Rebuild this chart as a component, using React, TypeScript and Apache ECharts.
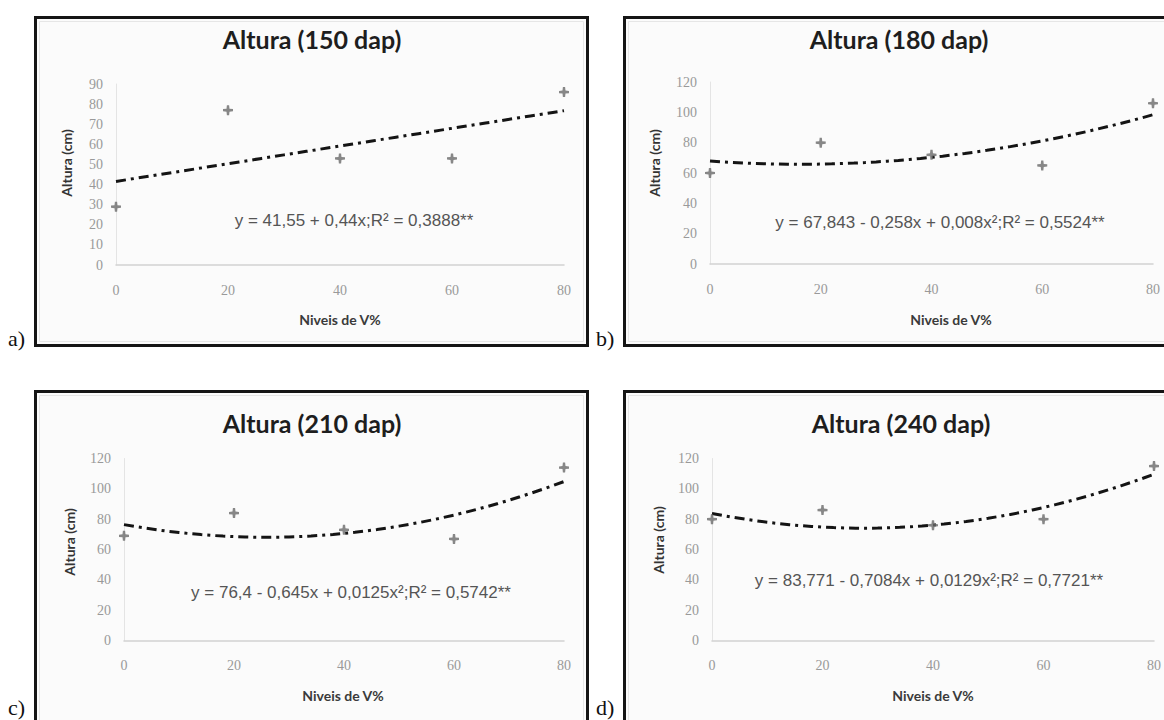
import React, { useEffect, useRef } from "react";
import * as echarts from "echarts";

// Liming levels (V%) on the horizontal axis
const X_LEVELS = [0, 20, 40, 60, 80];

// Plant height (cm) at each evaluation date
const ALTURA_150 = [29, 77, 53, 53, 86];
const ALTURA_180 = [60, 80, 72, 65, 106];
const ALTURA_210 = [69, 84, 73, 67, 114];
const ALTURA_240 = [80, 86, 76, 80, 115];

// Regression coefficients [b0, b1, b2] written in each equation label
const COEF_150 = [41.55, 0.44, 0];
const COEF_180 = [67.843, -0.258, 0.008];
const COEF_210 = [76.4, -0.645, 0.0125];
const COEF_240 = [83.771, -0.7084, 0.0129];

const TITLES = ["Altura (150 dap)", "Altura (180 dap)", "Altura (210 dap)", "Altura (240 dap)"];
const EQUATIONS = [
  "y = 41,55 + 0,44x;R² = 0,3888**",
  "y = 67,843 - 0,258x + 0,008x²;R² = 0,5524**",
  "y = 76,4 - 0,645x + 0,0125x²;R² = 0,5742**",
  "y = 83,771 - 0,7084x + 0,0129x²;R² = 0,7721**",
];
const PANEL_LABELS = ["a)", "b)", "c)", "d)"];
const Y_MAX = [90, 120, 120, 120];
const Y_STEP = [10, 20, 20, 20];
const X_NAME = "Niveis de V%";
const Y_NAME = "Altura (cm)";

const HEIGHTS = [ALTURA_150, ALTURA_180, ALTURA_210, ALTURA_240];
const COEFS = [COEF_150, COEF_180, COEF_210, COEF_240];

// Panel geometry (page pixels)
const GRIDS = [
  { left: 116, top: 84, width: 448, height: 181 },
  { left: 710, top: 82, width: 443, height: 182 },
  { left: 124, top: 458.5, width: 440, height: 182 },
  { left: 712, top: 458.5, width: 442, height: 182 },
];
const FRAMES = [
  { x: 35.5, y: 17.5, width: 552, height: 328 },
  { x: 624.5, y: 17.5, width: 560, height: 328 },
  { x: 35.5, y: 391.5, width: 552, height: 340 },
  { x: 624.5, y: 391.5, width: 560, height: 340 },
];
const TITLE_POS = [[312, 39], [899, 39], [312, 423], [901, 423]];
const EQ_POS = [[354, 220], [940, 222], [351, 592], [929, 580]];
const YNAME_POS = [[66, 163], [654, 163], [69, 542], [658, 540]];
const XNAME_POS = [[340, 319], [951, 319], [343, 695], [933, 695]];
const LABEL_POS = [[8, 338], [596, 338], [8, 707], [596, 707]];

// Fuzzy asterisk-like marker
const STAR = "path://M-2.2,-10 L2.2,-10 L3,-3 L10,-2.2 L10,2.2 L3,3 L2.2,10 L-2.2,10 L-3,3 L-10,2.2 L-10,-2.2 L-3,-3 Z";

function trendPoints(c: number[]): number[][] {
  const pts: number[][] = [];
  for (let x = 0; x <= 80; x += 2) {
    pts.push([x, c[0] + c[1] * x + c[2] * x * x]);
  }
  return pts;
}

export default function App() {
  const ref = useRef<HTMLDivElement>(null);

  useEffect(() => {
    if (!ref.current) return;
    const chart = echarts.init(ref.current, undefined, { renderer: "svg" });

    const graphic: any[] = [];
    FRAMES.forEach((f, i) => {
      graphic.push({
        type: "rect",
        shape: f,
        style: { fill: "#fbfbfb", stroke: "#151515", lineWidth: 3 },
        z: -10,
      });
      graphic.push({
        type: "rect",
        shape: { x: f.x + 4, y: f.y + 4, width: f.width - 8, height: f.height - 8 },
        style: { fill: "none", stroke: "#e6e6e6", lineWidth: 1 },
        z: -9,
      });
      graphic.push({
        type: "text",
        x: TITLE_POS[i][0],
        y: TITLE_POS[i][1],
        style: {
          text: TITLES[i],
          font: "bold 25px Lato, 'Open Sans', sans-serif",
          fill: "#1e1e1e",
          align: "center",
          verticalAlign: "middle",
        },
      });
      graphic.push({
        type: "text",
        x: EQ_POS[i][0],
        y: EQ_POS[i][1],
        style: {
          text: EQUATIONS[i],
          font: "17px 'Liberation Sans', Arial, sans-serif",
          fill: "#555555",
          align: "center",
          verticalAlign: "middle",
        },
      });
      graphic.push({
        type: "text",
        x: YNAME_POS[i][0],
        y: YNAME_POS[i][1],
        rotation: Math.PI / 2,
        style: {
          text: Y_NAME,
          font: "bold 14px Lato, sans-serif",
          fill: "#333333",
          align: "center",
          verticalAlign: "middle",
        },
      });
      graphic.push({
        type: "text",
        x: XNAME_POS[i][0],
        y: XNAME_POS[i][1],
        style: {
          text: X_NAME,
          font: "bold 14px Lato, sans-serif",
          fill: "#3a3a3a",
          align: "center",
          verticalAlign: "middle",
        },
      });
      graphic.push({
        type: "text",
        x: LABEL_POS[i][0],
        y: LABEL_POS[i][1],
        style: {
          text: PANEL_LABELS[i],
          font: "22px 'Liberation Serif', 'Times New Roman', serif",
          fill: "#111111",
          align: "left",
          verticalAlign: "middle",
        },
      });
    });

    const xAxis = GRIDS.map((_, i) => ({
      type: "value",
      gridIndex: i,
      min: 0,
      max: 80,
      interval: 20,
      axisLine: { show: true, onZero: false, lineStyle: { color: "#d2d2d2", width: 1.5 } },
      axisTick: { show: false },
      splitLine: { show: false },
      axisLabel: {
        margin: 18,
        color: "#999999",
        fontSize: 14,
        fontFamily: "'Liberation Serif', serif",
      },
    }));

    const yAxis = GRIDS.map((_, i) => ({
      type: "value",
      gridIndex: i,
      min: 0,
      max: Y_MAX[i],
      interval: Y_STEP[i],
      axisLine: { show: true, onZero: false, lineStyle: { color: "#e4e4e4", width: 1 } },
      axisTick: { show: false },
      splitLine: { show: false },
      axisLabel: {
        margin: 13,
        color: "#999999",
        fontSize: 14,
        fontFamily: "'Liberation Serif', serif",
      },
    }));

    const series: any[] = [];
    GRIDS.forEach((_, i) => {
      series.push({
        type: "line",
        xAxisIndex: i,
        yAxisIndex: i,
        data: trendPoints(COEFS[i]),
        showSymbol: false,
        symbol: "none",
        lineStyle: { color: "#141414", width: 3, type: [10, 5, 3, 5] },
        z: 3,
      });
      series.push({
        type: "scatter",
        xAxisIndex: i,
        yAxisIndex: i,
        data: X_LEVELS.map((x, k) => [x, HEIGHTS[i][k]]),
        symbol: STAR,
        symbolSize: 10,
        itemStyle: { color: "#6a6a6a" },
        z: 4,
      });
    });

    chart.setOption({
      animation: false,
      backgroundColor: "#ffffff",
      grid: GRIDS.map((g) => ({ ...g })),
      xAxis,
      yAxis,
      series,
      graphic,
    });

    return () => chart.dispose();
  }, []);

  return (
    <div
      ref={ref}
      style={{ position: "absolute", left: 0, top: 0, width: 1164, height: 720 }}
    />
  );
}
